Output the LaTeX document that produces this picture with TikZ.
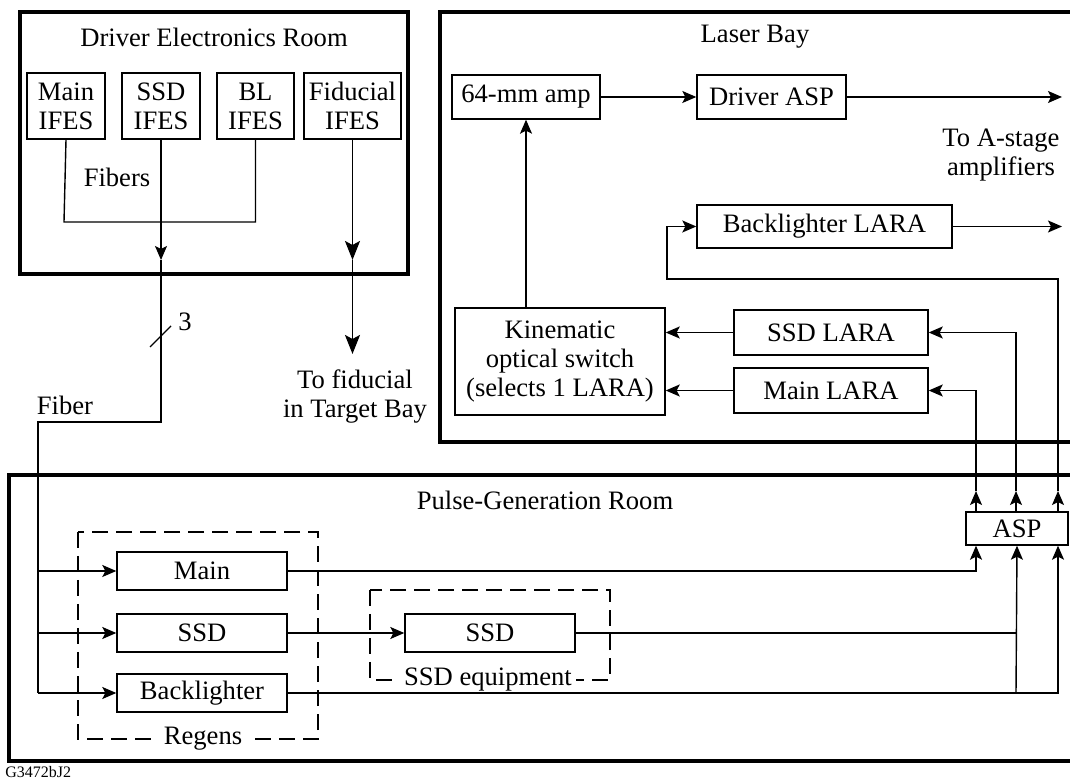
\documentclass[tikz,border=0pt]{standalone}
\usepackage{fontspec}
\setmainfont{Liberation Serif}
\usetikzlibrary{arrows.meta}

\begin{document}
\begin{tikzpicture}[x=0.5pt, y=-0.5pt,
        every node/.style={font=\fontsize{13.3}{14.5}\selectfont, align=center, inner sep=0pt},
        room/.style={line width=1.8pt},
        box/.style={draw, line width=0.7pt},
        group/.style={draw, line width=0.7pt, dash pattern=on 8pt off 4pt},
        wire/.style={line width=0.7pt},
        arr/.style={wire, -{Stealth[length=7pt, width=6pt, inset=1.5pt]}},
        bigarr/.style={line width=0.9pt, -{Stealth[length=9.5pt, width=7.5pt, inset=2pt]}}]

        \useasboundingbox (0,0) rectangle (1070,779);
        \clip (0,0) rectangle (1070,779);

        % rooms
        \draw[room] (20,12) rectangle (408,274);
        \draw[room] (440,12) rectangle (1090,442);
        \draw[room] (9,475) rectangle (1090,761);

        % room titles
        \node (der) at (214,37) {Driver Electronics Room};
        \node (lb) at (755,37) {Laser Bay};
        \node (pgr) at (545,500) {Pulse-Generation Room};

        % IFES
        \node[box, minimum width=39pt, minimum height=33pt] (mainifes) at (66,106) {Main\\IFES};
        \node[box, minimum width=39pt, minimum height=33pt] (ssdifes) at (161,106) {SSD\\IFES};
        \node[box, minimum width=38.5pt, minimum height=33pt] (blifes) at (255.5,106) {BL\\IFES};
        \node[box, minimum width=48.5pt, minimum height=33pt] (fidifes) at (352.5,106) {Fiducial\\IFES};
        \node (fibers) at (117,177) {Fibers};

        % laser bay
        \node[box, minimum width=74pt, minimum height=22pt] (amp) at (526,97) {64-mm amp};
        \node[box, minimum width=74.5pt, minimum height=22pt] (dasp) at (771.5,97) {Driver ASP};
        \node[box, minimum width=127.5pt, minimum height=21.5pt] (bllara) at (824.5,226.5) {Backlighter LARA};
        \node[box, minimum width=105pt, minimum height=53.5pt] (kin) at (560,361.5) {Kinematic\\optical switch\\(selects 1 LARA)};
        \node[box, minimum width=97pt, minimum height=22.5pt] (ssdlara) at (831,332.5) {SSD LARA};
        \node[box, minimum width=97pt, minimum height=22.5pt] (mainlara) at (831,390.5) {Main LARA};
        \node (astage) at (1001,155) {To A-stage\\amplifiers};
        \coordinate (dout) at (1062,97);
        \coordinate (blout) at (1062,226.5);

        % pulse-generation room
        \draw[group] (78,532) rectangle (318,739);
        \draw[group] (370,590) rectangle (610,680);
        \node[fill=white, inner xsep=5pt] (regens) at (203,739) {Regens};
        \node[fill=white, inner xsep=2pt] (ssdeq) at (488,680) {SSD equipment};
        \node[box, minimum width=85pt, minimum height=19pt] (mainreg) at (202,571) {Main};
        \node[box, minimum width=85pt, minimum height=19pt] (ssdreg) at (202,633) {SSD};
        \node[box, minimum width=85pt, minimum height=19pt] (blreg) at (202,693) {Backlighter};
        \node[box, minimum width=85pt, minimum height=19pt] (ssdeqbox) at (490,633) {SSD};
        \node[box, minimum width=51pt, minimum height=16.5pt] (asp) at (1017,528.5) {ASP};

        % fibers
        \draw[wire] (mainifes.south) -- (64,222) -| (blifes.south);
        \draw[arr] (ssdifes.south) -- (161,260);
        \draw[wire] (161,260) -- (161,422) -- (38,422) -- (38,693);
        \draw[arr] (38,693) -- (blreg.west);
        \draw[arr] (38,571) -- (mainreg.west);
        \draw[arr] (38,633) -- (ssdreg.west);
        \draw[wire] (150,347) -- (171,326);
        \node (three) at (185,322) {3};
        \node (fiber) at (65,405) {Fiber};

        % fiducial
        \draw[bigarr] (fidifes.south) -- (352.5,260);
        \draw[bigarr] (352.5,260) -- (352.5,354);
        \node (tofid) at (355,397) {To fiducial\\in Target Bay};

        % laser bay connections
        \draw[arr] (amp) -- (dasp);
        \draw[arr] (dasp) -- (dout);
        \draw[arr] (bllara) -- (blout);
        \draw[arr] (kin.north -| amp.south) -- (amp.south);
        \draw[arr] (ssdlara) -- (kin.east |- ssdlara);
        \draw[arr] (mainlara) -- (kin.east |- mainlara);

        % ASP outputs
        \draw[arr] (asp.north -| 976,0) -- (976,491);
        \draw[arr] (asp.north -| 1016,0) -- (1016,491);
        \draw[arr] (asp.north -| 1058,0) -- (1058,491);
        \draw[arr] (976,491) |- (mainlara.east);
        \draw[arr] (1016,491) |- (ssdlara.east);
        \draw[arr] (1058,491) -- (1058,279) -- (667,279) |- (bllara.west);

        % regen outputs
        \draw[arr] (mainreg.east) -| (asp.south -| 976,0);
        \draw[arr] (ssdreg) -- (ssdeqbox);
        \draw[wire] (ssdeqbox.east) -- (1016,633);
        \draw[arr] (1016,693) -- (asp.south);
        \draw[arr] (blreg.east) -| (asp.south -| 1058,0);

        % figure id
        \node[font=\fontsize{8}{9}\selectfont, anchor=south west] (gid) at (5,778.5) {G3472bJ2};
    \end{tikzpicture}
\end{document}
